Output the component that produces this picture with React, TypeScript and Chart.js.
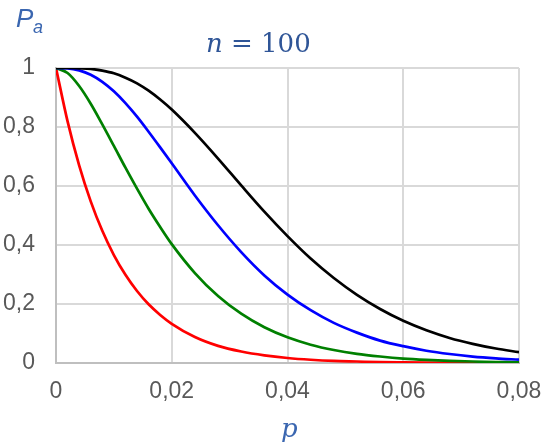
import React, { useEffect, useRef } from "react";
import { Chart, registerables } from "chart.js";

Chart.register(...registerables);

// Fraction defective p
const pValues = [
  0, 0.002, 0.004, 0.006, 0.008, 0.01, 0.012, 0.014, 0.016, 0.018, 0.02,
  0.024, 0.028, 0.032, 0.036, 0.04, 0.044, 0.048, 0.052, 0.056, 0.06,
  0.064, 0.068, 0.072, 0.076, 0.08,
];

// Probability of acceptance Pa
const redSeries = [
  1, 0.819, 0.67, 0.548, 0.448, 0.366, 0.299, 0.244, 0.199, 0.163, 0.133,
  0.088, 0.058, 0.039, 0.026, 0.017, 0.011, 0.007, 0.005, 0.003, 0.002,
  0.0013, 0.0009, 0.0006, 0.0004, 0.0002,
];
const greenSeries = [
  1, 0.983, 0.939, 0.879, 0.809, 0.736, 0.662, 0.591, 0.523, 0.461, 0.403,
  0.305, 0.227, 0.167, 0.121, 0.087, 0.062, 0.044, 0.031, 0.022, 0.015,
  0.0105, 0.0073, 0.005, 0.0034, 0.0023,
];
const blueSeries = [
  1, 0.999, 0.992, 0.977, 0.953, 0.921, 0.881, 0.835, 0.784, 0.731, 0.677,
  0.568, 0.467, 0.376, 0.297, 0.232, 0.179, 0.136, 0.103, 0.076, 0.057,
  0.0416, 0.0304, 0.0219, 0.0158, 0.0112,
];
const blackSeries = [
  1, 1, 0.999, 0.997, 0.991, 0.982, 0.967, 0.948, 0.923, 0.893, 0.859,
  0.78, 0.693, 0.602, 0.513, 0.43, 0.354, 0.288, 0.231, 0.183, 0.143,
  0.111, 0.085, 0.065, 0.049, 0.0367,
];

const xTickLabels = ["0", "0,02", "0,04", "0,06", "0,08"];
const yTickLabels = ["0", "0,2", "0,4", "0,6", "0,8", "1"];

const toPoints = (ys: number[]) => pValues.map((x, i) => ({ x, y: ys[i] }));

export default function App() {
  const canvasRef = useRef<HTMLCanvasElement | null>(null);

  useEffect(() => {
    const canvas = canvasRef.current;
    if (!canvas) return;
    const mk = (data: number[], color: string, order: number) => ({
      data: toPoints(data),
      borderColor: color,
      backgroundColor: color,
      borderWidth: 2.7,
      pointRadius: 0,
      cubicInterpolationMode: "monotone" as const,
      fill: false,
      order,
    });
    const tickFont = { family: "'Liberation Sans', Arial, sans-serif", size: 23 };
    const chart = new Chart(canvas, {
      type: "line",
      data: {
        datasets: [
          mk(redSeries, "#FF0000", 3),
          mk(greenSeries, "#008000", 2),
          mk(blueSeries, "#0000FF", 1),
          mk(blackSeries, "#000000", 0),
        ],
      },
      options: {
        responsive: false,
        animation: false,
        layout: { padding: { left: 0, top: 68, right: 25, bottom: 0 } },
        plugins: {
          legend: { display: false },
          title: { display: false },
          tooltip: { enabled: false },
        },
        scales: {
          x: {
            type: "linear",
            min: 0,
            max: 0.08,
            ticks: {
              stepSize: 0.02,
              color: "#595959",
              font: tickFont,
              padding: 15,
              maxRotation: 0,
              callback: (_v: any, i: number) => xTickLabels[i],
            },
            grid: { color: "#D9D9D9", lineWidth: 2, drawTicks: false },
            border: { color: "#BFBFBF", width: 2 },
            afterFit: (s: any) => {
              s.height = 82;
              s.paddingLeft = 0;
              s.paddingRight = 0;
            },
          },
          y: {
            min: 0,
            max: 1,
            ticks: {
              stepSize: 0.2,
              color: "#595959",
              font: tickFont,
              padding: 21,
              callback: (_v: any, i: number) => yTickLabels[i],
            },
            grid: { color: "#D9D9D9", lineWidth: 2, drawTicks: false },
            border: { color: "#BFBFBF", width: 2 },
            afterFit: (s: any) => {
              s.width = 56;
              s.paddingTop = 0;
              s.paddingBottom = 0;
            },
          },
        },
      },
    });
    return () => chart.destroy();
  }, []);

  const blue = "#2F5597";
  return (
    <div
      style={{
        position: "fixed",
        left: 0,
        top: 0,
        width: 544,
        height: 445,
        background: "#fff",
        overflow: "hidden",
      }}
    >
      <canvas ref={canvasRef} width={544} height={445} style={{ display: "block" }} />
      <div
        style={{
          position: "absolute",
          left: 16,
          top: 5,
          fontFamily: "'Liberation Sans', Arial, sans-serif",
          fontStyle: "italic",
          fontSize: 26,
          lineHeight: "26px",
          color: "#3A66B0",
          whiteSpace: "nowrap",
        }}
      >
        P
      </div>
      <div
        style={{
          position: "absolute",
          left: 33,
          top: 18,
          fontFamily: "'Liberation Sans', Arial, sans-serif",
          fontStyle: "italic",
          fontSize: 18,
          lineHeight: "18px",
          color: "#3A66B0",
          whiteSpace: "nowrap",
        }}
      >
        a
      </div>
      <div
        style={{
          position: "absolute",
          left: 206,
          top: 30,
          fontFamily: "'DejaVu Serif', serif",
          fontSize: 26,
          lineHeight: "26px",
          color: blue,
          whiteSpace: "pre",
        }}
      >
        <span style={{ fontStyle: "italic" }}>n</span> = 100
      </div>
      <div
        style={{
          position: "absolute",
          left: 281,
          top: 415,
          fontFamily: "'DejaVu Serif', serif",
          fontStyle: "italic",
          fontSize: 26,
          lineHeight: "26px",
          color: "#3A66B0",
          whiteSpace: "nowrap",
        }}
      >
        p
      </div>
    </div>
  );
}
